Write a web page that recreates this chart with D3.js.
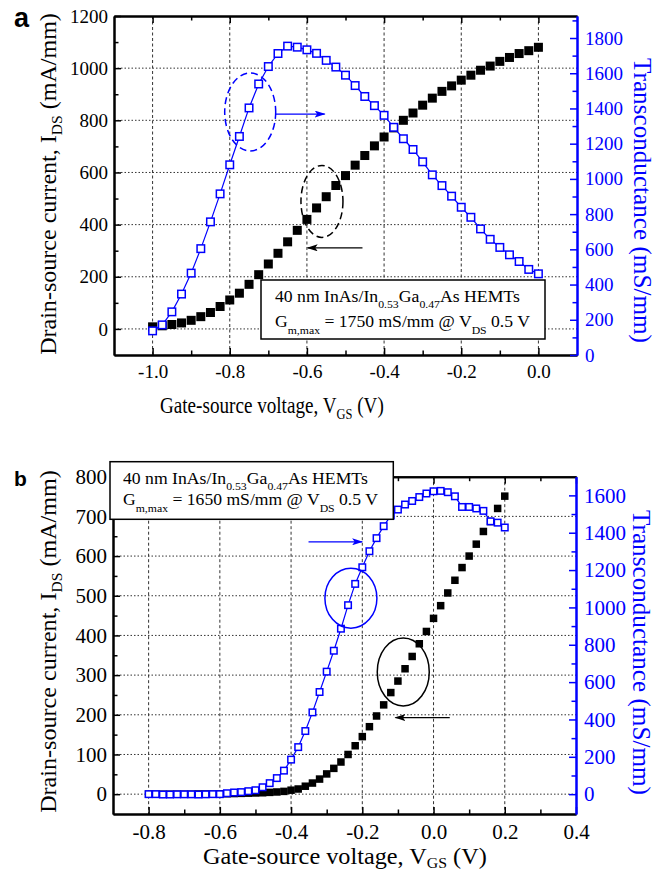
<!DOCTYPE html>
<html lang="en">
<head>
  <meta charset="UTF-8">
  <title>HEMT transfer characteristics</title>
  <script src="https://d3js.org/d3.v7.min.js"></script>
  <style>
    body { margin: 0; background: #fff; }
    svg text { font-family: "Liberation Serif", "Times New Roman", serif; }
    .grid-v { stroke: #333; stroke-width: 1; stroke-dasharray: 3,2.5; }
    .grid-h { stroke: #333; stroke-width: 1; stroke-dasharray: 1.5,2; }
  </style>
</head>
<body>
<div id="chart"></div>
<script>
// ---- panel a data ----
const vgsA = [-1.0,-0.975,-0.95,-0.925,-0.9,-0.875,-0.85,-0.825,-0.8,-0.775,-0.75,-0.725,-0.7,-0.675,-0.65,-0.625,-0.6,-0.575,-0.55,-0.525,-0.5,-0.475,-0.45,-0.425,-0.4,-0.375,-0.35,-0.325,-0.3,-0.275,-0.25,-0.225,-0.2,-0.175,-0.15,-0.125,-0.1,-0.075,-0.05,-0.025,0.0];
const idsA = [8,12,17,23,33,47,63,86,111,137,171,208,249,290,334,378,420,464,507,550,588,628,665,702,736,771,800,828,858,885,911,932,954,973,992,1008,1026,1041,1056,1067,1080];
const gmA = [137,171,245,346,465,604,756,915,1080,1241,1403,1539,1638,1712,1754,1748,1733,1713,1673,1635,1589,1530,1468,1416,1361,1293,1228,1167,1097,1023,962,902,839,782,716,657,611,569,531,486,461];

// ---- panel b data ----
const vgsB = [-0.8,-0.78,-0.76,-0.74,-0.72,-0.7,-0.68,-0.66,-0.64,-0.62,-0.6,-0.58,-0.56,-0.54,-0.52,-0.5,-0.48,-0.46,-0.44,-0.42,-0.4,-0.38,-0.36,-0.34,-0.32,-0.3,-0.28,-0.26,-0.24,-0.22,-0.2,-0.18,-0.16,-0.14,-0.12,-0.1,-0.08,-0.06,-0.04,-0.02,0.0,0.02,0.04,0.06,0.08,0.1,0.12,0.14,0.16,0.18,0.2];
const idsB = [0,0,0,0,0,0,0,0.5,0.5,0.5,1,1,1.5,2,2.5,3,3.5,4.5,5.5,7,10,13,20,28,38,51,65,81,100,122,145,170,197,225,256,285,316,347,379,410,443,475,507,539,571,600,630,662,687,720,751];
const gmB = [0,0,-2,-2,-1,-1,-1,-2,-1,0,0,5,9,11,16,21,37,59,86,126,185,252,338,438,547,656,768,886,1012,1126,1215,1301,1371,1435,1492,1524,1551,1570,1591,1610,1622,1624,1617,1595,1538,1538,1530,1517,1461,1454,1428];

// ---- ticks ----
const xTicksA = [-1.0,-0.8,-0.6,-0.4,-0.2,0.0];
const xMinorA = [-0.9,-0.7,-0.5,-0.3,-0.1];
const yLTicksA = [0,200,400,600,800,1000,1200];
const yLMinorA = [100,300,500,700,900,1100];
const yRTicksA = [0,200,400,600,800,1000,1200,1400,1600,1800];
const yRMinorA = [100,300,500,700,900,1100,1300,1500,1700,1900];

const xTicksB = [-0.8,-0.6,-0.4,-0.2,0.0,0.2,0.4];
const xMinorB = [-0.7,-0.5,-0.3,-0.1,0.1,0.3];
const yLTicksB = [0,100,200,300,400,500,600,700,800];
const yLMinorB = [50,150,250,350,450,550,650,750];
const yRTicksB = [0,200,400,600,800,1000,1200,1400,1600];
const yRMinorB = [100,300,500,700,900,1100,1300,1500];

const BLUE = "#0000ff";
const SERIF = "'Liberation Serif', 'Times New Roman', serif";

const svg = d3.select("#chart").append("svg")
  .attr("width", 665).attr("height", 873);

const defs = svg.append("defs");
[["ahBlue", BLUE], ["ahBlack", "#000"]].forEach(([id, c]) => {
  defs.append("marker").attr("id", id)
    .attr("viewBox", "0 0 11 7").attr("refX", 10).attr("refY", 3.5)
    .attr("markerWidth", 11).attr("markerHeight", 7)
    .attr("markerUnits", "userSpaceOnUse").attr("orient", "auto")
    .append("path").attr("d", "M0,0L11,3.5L0,7L2.5,3.5Z").attr("fill", c);
});

// text with subscripts, squeezed/stretched to a given width via a scale transform
function subText(g, parts, o) {
  const wrap = g.append("g");
  const t = wrap.append("text")
    .attr("font-size", o.size)
    .attr("fill", o.fill || "#000")
    .attr("text-anchor", o.anchor || "start")
    .style("font-family", SERIF);
  let down = false;
  parts.forEach(([s, sub]) => {
    const ts = t.append("tspan").text(s);
    if (sub && !down) { ts.attr("dy", o.subDy).attr("font-size", o.subSize); down = true; }
    else if (sub) { ts.attr("font-size", o.subSize); }
    else if (!sub && down) { ts.attr("dy", -o.subDy); down = false; }
  });
  const w = t.node().getComputedTextLength();
  const sx = o.len ? o.len / w : 1;
  wrap.attr("transform", `translate(${o.x},${o.y}) rotate(${o.rotate || 0}) scale(${sx},1)`);
  return wrap;
}

function panel(c) {
  const g = svg.append("g");
  const x = d3.scaleLinear().domain(c.xDomain).range([c.left, c.right]);
  const yL = d3.scaleLinear().domain(c.yLDomain).range([c.bottom, c.top]);
  const yR = d3.scaleLinear().domain(c.yRDomain).range([c.bottom, c.top]);

  // grid
  g.append("g").selectAll("line").data(c.xGrid).join("line")
    .attr("class", "grid-v")
    .attr("x1", d => x(d)).attr("x2", d => x(d))
    .attr("y1", c.top).attr("y2", c.bottom);
  g.append("g").selectAll("line").data(c.yGrid).join("line")
    .attr("class", "grid-h")
    .attr("x1", c.left).attr("x2", c.right)
    .attr("y1", d => yL(d)).attr("y2", d => yL(d));

  // black squares (I_DS)
  const sb = c.sqBlack;
  g.append("g").selectAll("rect").data(c.vgs).join("rect")
    .attr("x", d => x(d) - sb / 2)
    .attr("y", (d, i) => yL(c.ids[i]) - sb / 2)
    .attr("width", sb).attr("height", sb)
    .attr("fill", "#000");

  // blue line + hollow squares (gm)
  const line = d3.line().x((d, i) => x(c.vgs[i])).y(d => yR(d));
  g.append("path").datum(c.gm).attr("d", line)
    .attr("fill", "none").attr("stroke", BLUE).attr("stroke-width", 1.2);
  const s = c.sqBlue;
  g.append("g").selectAll("rect").data(c.gm).join("rect")
    .attr("x", (d, i) => x(c.vgs[i]) - s / 2)
    .attr("y", d => yR(d) - s / 2)
    .attr("width", s).attr("height", s)
    .attr("fill", "#fff").attr("stroke", BLUE).attr("stroke-width", 1.5);

  // axes
  const fmtX = d => d.toFixed(1);
  const fmtY = d => String(d);
  function styleAxis(sel, color, size) {
    sel.attr("font-size", size);
    sel.selectAll("line").attr("stroke", color).attr("stroke-width", 1.5);
    sel.selectAll("path").attr("stroke", color).attr("stroke-width", 2);
    sel.selectAll("text").attr("fill", color).style("font-family", SERIF);
  }
  const big = 7, small = 4.5;
  const ax = tf => g.append("g").attr("transform", tf);

  // bottom
  ax(`translate(0,${c.bottom})`).call(d3.axisBottom(x).tickValues(c.xTicks).tickFormat(fmtX)
      .tickSizeInner(-big).tickSizeOuter(0).tickPadding(c.xPad))
    .call(s => styleAxis(s, "#000", c.tickFont));
  ax(`translate(0,${c.bottom})`).call(d3.axisBottom(x).tickValues(c.xMinor).tickFormat("")
      .tickSizeInner(-small).tickSizeOuter(0))
    .call(s => styleAxis(s, "#000", c.tickFont));
  // top
  ax(`translate(0,${c.top})`).call(d3.axisTop(x).tickValues(c.xTicks).tickFormat("")
      .tickSizeInner(-big).tickSizeOuter(0))
    .call(s => styleAxis(s, "#000", c.tickFont));
  ax(`translate(0,${c.top})`).call(d3.axisTop(x).tickValues(c.xMinor).tickFormat("")
      .tickSizeInner(-small).tickSizeOuter(0))
    .call(s => styleAxis(s, "#000", c.tickFont));
  // left
  ax(`translate(${c.left},0)`).call(d3.axisLeft(yL).tickValues(c.yLTicks).tickFormat(fmtY)
      .tickSizeInner(-big).tickSizeOuter(0).tickPadding(c.yPad))
    .call(s => styleAxis(s, "#000", c.tickFont));
  ax(`translate(${c.left},0)`).call(d3.axisLeft(yL).tickValues(c.yLMinor).tickFormat("")
      .tickSizeInner(-small).tickSizeOuter(0))
    .call(s => styleAxis(s, "#000", c.tickFont));
  // right
  ax(`translate(${c.right},0)`).call(d3.axisRight(yR).tickValues(c.yRTicks).tickFormat(fmtY)
      .tickSizeInner(-big).tickSizeOuter(0).tickPadding(c.yPad + 2))
    .call(s => styleAxis(s, BLUE, c.tickFont));
  ax(`translate(${c.right},0)`).call(d3.axisRight(yR).tickValues(c.yRMinor).tickFormat("")
      .tickSizeInner(-small).tickSizeOuter(0))
    .call(s => styleAxis(s, BLUE, c.tickFont));

  // annotations: ellipses + arrows
  c.ellipses.forEach(e => {
    g.append("ellipse")
      .attr("cx", x(e.v)).attr("cy", yL(e.i))
      .attr("rx", e.rx).attr("ry", e.ry)
      .attr("fill", "none").attr("stroke", e.color).attr("stroke-width", 1.5)
      .attr("stroke-dasharray", e.dash || null);
  });
  c.arrows.forEach(a => {
    g.append("line")
      .attr("x1", x(a.from)).attr("x2", x(a.to))
      .attr("y1", yL(a.i)).attr("y2", yL(a.i))
      .attr("stroke", a.color).attr("stroke-width", 1.3)
      .attr("marker-end", `url(#${a.marker})`);
  });

  // info box
  const b = c.box;
  g.append("rect").attr("x", b.x).attr("y", b.y).attr("width", b.w).attr("height", b.h)
    .attr("fill", "#fff").attr("stroke", "#000").attr("stroke-width", 1.5);
  subText(g, [["40 nm InAs/In"], ["0.53", 1], ["Ga"], ["0.47", 1], ["As HEMTs"]],
    { size: 16.5, subSize: 11, subDy: 6, len: 245, x: b.tx, y: b.l1 });
  subText(g, [["G"], ["m,max", 1], [` = ${c.gmax} mS/mm @ V`], ["DS", 1], [" 0.5 V"]],
    { size: 16.5, subSize: 11, subDy: 7, len: 255, x: b.tx, y: b.l2 });

  // axis titles
  subText(g, [["Gate-source voltage, V"], ["GS", 1], [" (V)"]],
    { size: 23, subSize: 15, subDy: c.xTitle.subDy, len: c.xTitle.len, x: c.xTitle.x, y: c.xTitle.y });
  subText(g, [["Drain-source current, I"], ["DS", 1], [" (mA/mm)"]],
    { size: 24, subSize: 15.5, subDy: 6, len: c.yLTitle.len, anchor: "middle",
      x: c.yLTitle.x, y: c.yLTitle.y, rotate: -90 });
  subText(g, [["Transconductance (mS/mm)"]],
    { size: 25, fill: BLUE, len: c.yRTitle.len, anchor: "middle",
      x: c.yRTitle.x, y: c.yRTitle.y, rotate: 90 });

  // panel letter
  g.append("text").text(c.letter.t)
    .attr("x", c.letter.x).attr("y", c.letter.y)
    .style("font-family", "'Liberation Sans', Arial, sans-serif")
    .attr("font-weight", "bold").attr("font-size", c.letter.size);
}

panel({
  left: 114, right: 577, top: 16, bottom: 355,
  xDomain: [-1.1, 0.1], yLDomain: [-100, 1200], yRDomain: [0, 1925],
  vgs: vgsA, ids: idsA, gm: gmA,
  xGrid: xTicksA, yGrid: [0, 200, 400, 600, 800, 1000],
  xTicks: xTicksA, xMinor: xMinorA,
  yLTicks: yLTicksA, yLMinor: yLMinorA, yRTicks: yRTicksA, yRMinor: yRMinorA,
  tickFont: 19, xPad: 10, yPad: 6,
  sqBlack: 9, sqBlue: 7.5,
  ellipses: [
    { v: -0.747, i: 832, rx: 25.5, ry: 39, color: BLUE, dash: "7,4" },
    { v: -0.561, i: 489, rx: 21, ry: 36, color: "#000", dash: "7,4" }
  ],
  arrows: [
    { from: -0.681, to: -0.554, i: 824, color: BLUE, marker: "ahBlue" },
    { from: -0.456, to: -0.598, i: 311, color: "#000", marker: "ahBlack" }
  ],
  box: { x: 261, y: 280, w: 284, h: 59, tx: 275, l1: 302, l2: 327 },
  gmax: 1750,
  xTitle: { x: 160, y: 413, len: 224, subDy: 6 },
  yLTitle: { x: 56, y: 184, len: 342 },
  yRTitle: { x: 634, y: 200.5, len: 285 },
  letter: { t: "a", x: 14, y: 27, size: 27 }
});

panel({
  left: 113, right: 576, top: 476.7, bottom: 814,
  xDomain: [-0.9, 0.4], yLDomain: [-50, 800], yRDomain: [-106.25, 1700],
  vgs: vgsB, ids: idsB, gm: gmB,
  xGrid: [-0.8, -0.6, -0.4, -0.2, 0.0, 0.2], yGrid: [0, 100, 200, 300, 400, 500, 600, 700],
  xTicks: xTicksB, xMinor: xMinorB,
  yLTicks: yLTicksB, yLMinor: yLMinorB, yRTicks: yRTicksB, yRMinor: yRMinorB,
  tickFont: 21, xPad: 10, yPad: 6,
  sqBlack: 7.5, sqBlue: 6.5,
  ellipses: [
    { v: -0.232, i: 494, rx: 26, ry: 30, color: BLUE },
    { v: -0.085, i: 308, rx: 26, ry: 34, color: "#000" }
  ],
  arrows: [
    { from: -0.351, to: -0.2005, i: 636, color: BLUE, marker: "ahBlue" },
    { from: 0.0455, to: -0.107, i: 193, color: "#000", marker: "ahBlack" }
  ],
  box: { x: 110, y: 461.7, w: 283.3, h: 57.6, tx: 123, l1: 483.5, l2: 505 },
  gmax: 1650,
  xTitle: { x: 203, y: 864, len: 284, subDy: 4 },
  yLTitle: { x: 56, y: 641.5, len: 343 },
  yRTitle: { x: 633, y: 652.5, len: 285 },
  letter: { t: "b", x: 14, y: 486, size: 21 }
});
</script>
</body>
</html>
